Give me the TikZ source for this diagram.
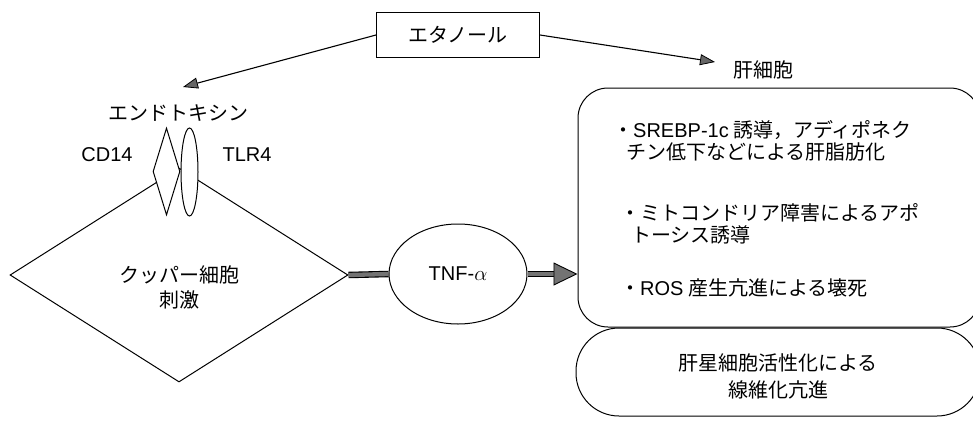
\documentclass[tikz,border=0pt]{standalone}
\usepackage{fontspec}
\setmainfont{Noto Sans CJK JP}
\newfontfamily\lat{Liberation Sans}
\usetikzlibrary{shapes.geometric,arrows.meta}
\begin{document}
\begin{tikzpicture}[x=1pt,y=-1pt,
  txt/.style={font=\fontsize{20}{22}\selectfont, inner sep=0pt},
  line/.style={line width=1pt, draw=black},
  thinarrow/.style={line width=1.1pt, -{Triangle[length=15pt,width=11pt,line width=0.8pt,color=black,fill=black!60]}},
  thickouter/.style={line width=6.5pt, black},
  thickinner/.style={line width=4.3pt, black!55},
  bigtip/.style={-{Triangle[length=24pt,width=23pt,line width=0.9pt,color=black,fill=black!55]}}
]
\useasboundingbox (0,0) rectangle (973,420);

% Ethanol box and arrows
\node[line, txt, draw, minimum width=163pt, minimum height=45pt] (eth) at (458,35) {エタノール};
\coordinate (endo) at (183,87);
\coordinate (hepc) at (715,62);
\draw[thinarrow] (eth.west) -- (endo);
\draw[thinarrow] (eth.east) -- (hepc);

% Endotoxin and receptors
\node[txt] (endot) at (178,113) {エンドトキシン};
\node[txt] (cd14l) at (107,155) {\lat CD14};
\node[txt] (tlr4l) at (247,155) {\lat TLR4};

\node[line, diamond, fill=white, minimum width=338pt, minimum height=214pt, inner sep=0pt] (kc) at (179,275) {};
\node[txt, align=center, font=\fontsize{20}{25}\selectfont] (kct) at (179,287) {クッパー細胞\\刺激};
\node[line, diamond, fill=white, minimum width=27pt, minimum height=87pt, inner sep=0pt] (cd14) at (166.5,171.5) {};
\node[line, ellipse, fill=white, minimum width=17pt, minimum height=88pt, inner sep=0pt] (tlr4) at (189.5,172) {};

% TNF-alpha
\node[line, ellipse, txt, minimum width=138pt, minimum height=100pt] (tnf) at (458,274) {{\lat TNF-}$\alpha$};

\draw[thickouter] (kc.east) -- (tnf.west);
\draw[thickinner] (kc.east) -- (tnf.west);

% Hepatocyte
\node[txt] (hept) at (763,70) {肝細胞};
\node[line, rounded corners=30pt, minimum width=402pt, minimum height=239pt] (hep) at (779,207.5) {};
\node[line, rounded corners=43pt, minimum width=404pt, minimum height=88pt] (hsc) at (778,372) {};

\coordinate (hin) at (tnf.east -| hep.west);
\draw[thickouter, shorten >=22pt] (tnf.east) -- (hin);
\draw[thickinner, bigtip] (tnf.east) -- (hin);

\node[txt, anchor=west] (l1) at (613,130) {・{\lat SREBP-1c} 誘導，アディポネク};
\node[txt, anchor=west] (l2) at (626,152) {チン低下などによる肝脂肪化};
\node[txt, anchor=west] (l3) at (620,213) {・ミトコンドリア障害によるアポ};
\node[txt, anchor=west] (l4) at (631,235) {トーシス誘導};
\node[txt, anchor=west] (l5) at (620,288) {・{\lat ROS} 産生亢進による壊死};

\node[txt, align=center, font=\fontsize{20}{27}\selectfont] (hsct) at (778,376.5) {肝星細胞活性化による\\線維化亢進};
\end{tikzpicture}
\end{document}
